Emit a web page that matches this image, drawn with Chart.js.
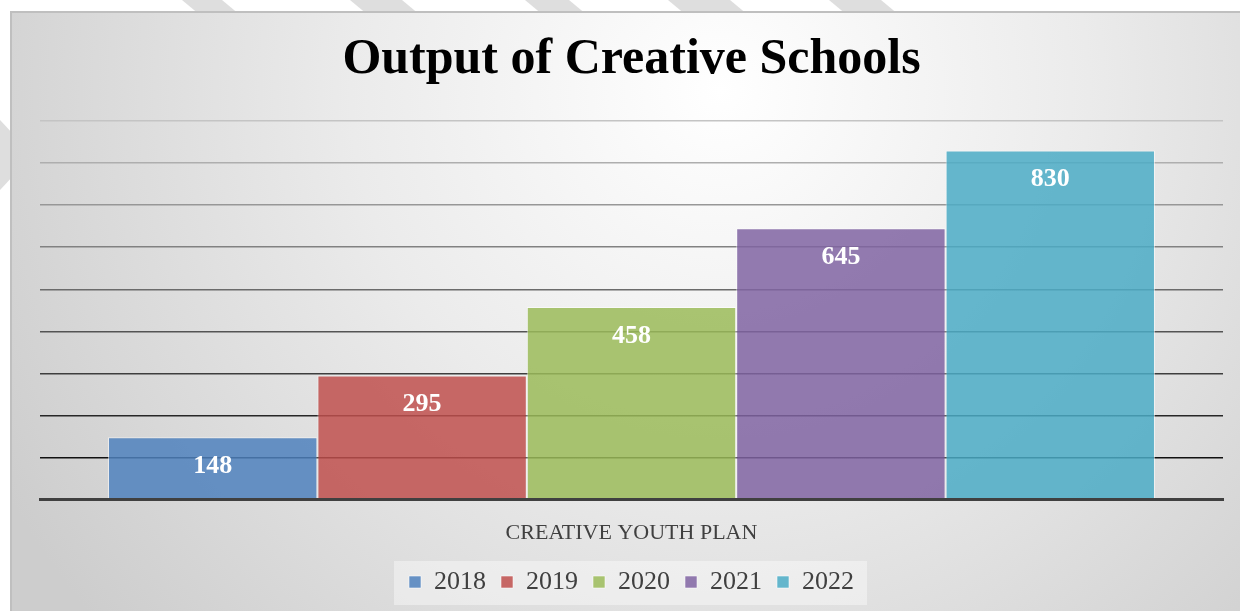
<!DOCTYPE html>
<html>
<head>
<meta charset="utf-8">
<title>Output of Creative Schools</title>
<script src="https://cdn.jsdelivr.net/npm/chart.js@4/dist/chart.umd.min.js"></script>
<style>
  html, body { margin: 0; padding: 0; background: #ffffff; }
  #chart { display: block; }
</style>
</head>
<body>
<canvas id="chart" width="1240" height="611"></canvas>
<script>
// data
const categories = ['CREATIVE YOUTH PLAN'];
const years = ['2018', '2019', '2020', '2021', '2022'];
const outputs = [148, 295, 458, 645, 830];
const colors = ['#4F81BD', '#C0504D', '#9BBB59', '#8064A2', '#4BACC6'];
const yMax = 900;
const yStep = 100;

const FONT = '"Liberation Serif", "Times New Roman", serif';

function withAlpha(hex, a) {
    const n = parseInt(hex.slice(1), 16);
    return `rgba(${(n >> 16) & 255}, ${(n >> 8) & 255}, ${n & 255}, ${a})`;
}

// grid lines fade from near black at the bottom to light grey at the top
function gridColor(value) {
    if (value === 0) return '#404040';
    const t = (value - yStep) / (yMax - yStep);
    const c = Math.round(17 + t * (196 - 17));
    return `rgb(${c}, ${c}, ${c})`;
}

// page stripes, framed panel with a soft radial fill, and the legend strip
const backdrop = {
    id: 'backdrop',
    beforeDraw(chart) {
        const ctx = chart.ctx;
        const w = chart.width, h = chart.height;
        ctx.save();
        ctx.fillStyle = '#ffffff';
        ctx.fillRect(0, 0, w, h);

        ctx.fillStyle = '#dedede';
        const stripes = [[182, 40], [350, 52], [525, 44], [668, 62], [829, 52]];
        stripes.forEach(([x, sw]) => {
            ctx.beginPath();
            ctx.moveTo(x, 0);
            ctx.lineTo(x + sw, 0);
            ctx.lineTo(x + sw + 36, 30);
            ctx.lineTo(x + 36, 30);
            ctx.closePath();
            ctx.fill();
        });
        ctx.beginPath();
        ctx.moveTo(0, 120);
        ctx.lineTo(14, 135);
        ctx.lineTo(14, 175);
        ctx.lineTo(0, 190);
        ctx.closePath();
        ctx.fill();

        const g = ctx.createRadialGradient(720, 90, 0, 720, 90, 820);
        g.addColorStop(0, '#ffffff');
        g.addColorStop(0.45, '#ebebeb');
        g.addColorStop(1, '#cdcdcd');
        ctx.fillStyle = g;
        ctx.fillRect(10, 11, w, h);

        ctx.strokeStyle = '#bfbfbf';
        ctx.lineWidth = 2;
        ctx.beginPath();
        ctx.moveTo(11, h + 2);
        ctx.lineTo(11, 12);
        ctx.lineTo(w + 2, 12);
        ctx.stroke();

        const boxes = chart.legend && chart.legend.legendHitBoxes;
        if (boxes && boxes.length) {
            const first = boxes[0], last = boxes[boxes.length - 1];
            const cy = first.top + first.height / 2;
            ctx.fillStyle = 'rgba(255, 255, 255, 0.4)';
            ctx.fillRect(first.left - 15, cy - 21, last.left + last.width - first.left + 28, 44);
        }
        ctx.restore();
    }
};

// value labels inside the top of each bar
const barValues = {
    id: 'barValues',
    afterDatasetsDraw(chart) {
        const ctx = chart.ctx;
        ctx.save();
        ctx.fillStyle = '#ffffff';
        ctx.font = `bold 26px ${FONT}`;
        ctx.textAlign = 'center';
        ctx.textBaseline = 'middle';
        chart.data.datasets.forEach((ds, i) => {
            const meta = chart.getDatasetMeta(i);
            meta.data.forEach((bar, j) => {
                ctx.fillText(String(ds.data[j]), bar.x, bar.y + 29);
            });
        });
        ctx.restore();
    }
};

new Chart('chart', {
    type: 'bar',
    data: {
        labels: categories,
        datasets: years.map((year, i) => ({
            label: year,
            data: [outputs[i]],
            backgroundColor: withAlpha(colors[i], 0.85),
            borderColor: 'rgba(255, 255, 255, 0.55)',
            borderWidth: 1,
            barPercentage: 1,
            categoryPercentage: 0.885
        }))
    },
    options: {
        responsive: false,
        animation: false,
        layout: { padding: { left: 40, right: 17, top: 0, bottom: 6 } },
        scales: {
            x: {
                grid: { display: false, drawTicks: false },
                border: { display: true, color: '#404040', width: 3 },
                ticks: { color: '#404040', font: { family: FONT, size: 22 }, padding: 20 },
                afterFit: (scale) => { scale.height -= 12; }
            },
            y: {
                min: 0,
                max: yMax,
                ticks: { display: false, stepSize: yStep },
                border: { display: false },
                grid: {
                    drawTicks: false,
                    color: (c) => gridColor(c.tick.value),
                    lineWidth: (c) => c.tick.value === 0 ? 3 : 1.5
                }
            }
        },
        plugins: {
            title: {
                display: true,
                text: 'Output of Creative Schools',
                color: '#000000',
                font: { family: FONT, size: 50, weight: 'bold' },
                padding: { top: 30, bottom: 31 }
            },
            legend: {
                position: 'bottom',
                labels: {
                    color: '#404040',
                    font: { family: FONT, size: 26 },
                    boxWidth: 12,
                    boxHeight: 12,
                    padding: 15
                }
            },
            tooltip: { enabled: false }
        }
    },
    plugins: [backdrop, barValues]
});
</script>
</body>
</html>
